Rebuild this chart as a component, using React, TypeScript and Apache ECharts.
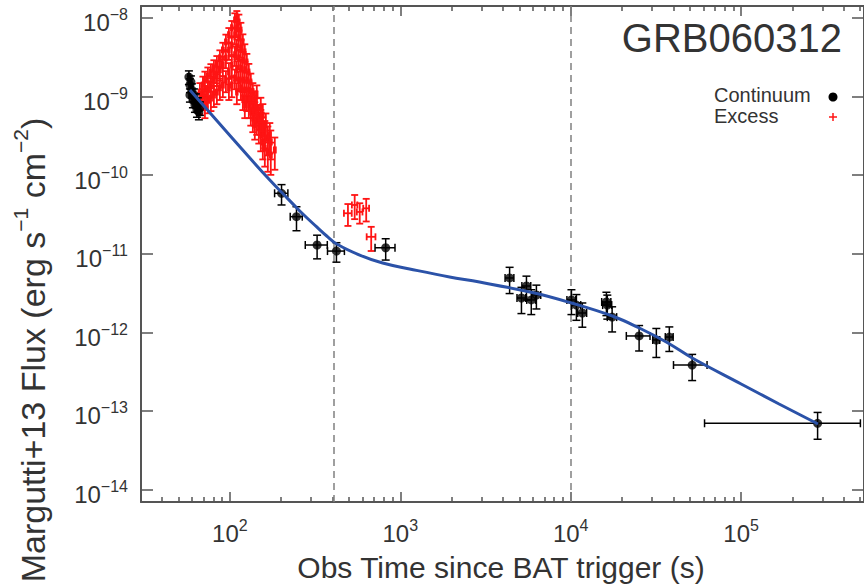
import React, { useEffect, useRef } from "react";
import * as echarts from "echarts";

// ---------- axis ranges (data units) ----------
const X_MIN = 30.1; // s
const X_MAX = 5.26e5; // s
const Y_MIN = 6.92e-15;
const Y_MAX = 1.42e-8;

const xMajorTicks = [100, 1000, 10000, 100000];
const xMinorTicks = [
  40, 50, 60, 70, 80, 90,
  200, 300, 400, 500, 600, 700, 800, 900,
  2000, 3000, 4000, 5000, 6000, 7000, 8000, 9000,
  20000, 30000, 40000, 50000, 60000, 70000, 80000, 90000,
  200000, 300000, 400000, 500000,
];
const yMajorTicks = [1e-14, 1e-13, 1e-12, 1e-11, 1e-10, 1e-9, 1e-8];

const breakTimes = [410, 10000];

// ---------- Continuum (black points) ----------
const contT = [57.5, 58.3, 58.3, 59.1, 59.9, 60.7, 61.5, 62.4, 63.2, 64.1, 64.9, 65.8, 66.7,
  201, 246, 325, 422, 821,
  4380, 5140, 5500, 5870, 6290, 10100, 10800, 11700, 16200, 16400, 17500,
  25200, 31800, 37900, 51600, 281000];
const contF = [1.77e-9, 1.4e-9, 1.05e-9, 1.53e-9, 1.21e-9, 9.0e-10, 1.05e-9, 7.8e-10, 9.0e-10, 6.75e-10, 8.04e-10, 6.36e-10, 7.15e-10,
  5.87e-11, 2.96e-11, 1.29e-11, 1.08e-11, 1.19e-11,
  4.91e-12, 2.73e-12, 3.88e-12, 2.58e-12, 2.98e-12, 2.58e-12, 2.22e-12, 1.76e-12, 2.43e-12, 2.22e-12, 1.56e-12,
  8.98e-13, 7.98e-13, 8.7e-13, 3.83e-13, 6.95e-14];
const contTErr = [0.8, 0.8, 0.8, 0.8, 0.8, 0.8, 0.8, 0.8, 0.8, 0.8, 0.8, 0.8, 0.8,
  18, 20, 48, 48, 110,
  260, 300, 330, 350, 380, 600, 650, 700, 1000, 1000, 1100,
  4000, 1500, 2000, 11500, 220000];
const contFErr = [0.35e-9, 0.28e-9, 0.2e-9, 0.3e-9, 0.24e-9, 0.18e-9, 0.2e-9, 0.15e-9, 0.18e-9, 0.13e-9, 0.16e-9, 0.13e-9, 0.14e-9,
  1.7e-11, 1.0e-11, 0.43e-11, 0.3e-11, 0.36e-11,
  1.8e-12, 1.0e-12, 1.3e-12, 0.9e-12, 1.0e-12, 0.9e-12, 0.8e-12, 0.6e-12, 0.8e-12, 0.75e-12, 0.55e-12,
  3.2e-13, 3.2e-13, 3.0e-13, 1.4e-13, 2.6e-14];

// ---------- Excess (red crosses) ----------
const excT = [
  66.7, 66.7, 69.5, 69.5,
  71.4, 71.4, 71.4, 74.3, 74.3, 74.3, 77.4, 77.4, 77.4, 80.6, 80.6, 80.6,
  83.9, 83.9, 83.9, 87.4, 87.4, 87.4, 91.0, 91.0, 91.0, 94.8, 94.8, 94.8,
  98.7, 98.7, 98.7, 102.7, 102.7, 102.7, 107.0, 107.0, 107.0, 109.9, 109.9, 109.9,
  112.9, 112.9, 112.9, 116.0, 116.0, 116.0, 119.2, 119.2, 119.2, 122.4, 122.4, 122.4,
  125.8, 125.8, 125.8, 129.2, 129.2, 129.2, 132.7, 132.7, 132.7, 136.4, 136.4, 136.4,
  140.1, 140.1, 140.1, 143.9, 143.9, 147.9, 147.9, 151.9, 151.9, 156.1, 156.1,
  160.4, 160.4, 167.0, 167.0, 173.8, 173.8,
  98.7, 102.7, 107.0, 109.9, 109.9, 112.9, 116.0, 119.2, 122.4,
  183.5, 156.1, 143.9, 151.9, 162.6, 171.5,
  493, 540, 578, 631, 675];
const excF = [
  1.14e-9, 8.5e-10, 1.4e-9, 9.6e-10,
  1.62e-9, 1.05e-9, 7.8e-10, 1.83e-9, 1.21e-9, 9.0e-10, 2.05e-9, 1.4e-9, 9.6e-10, 2.3e-9, 1.62e-9, 1.05e-9,
  2.6e-9, 1.88e-9, 1.14e-9, 3.1e-9, 2.2e-9, 1.29e-9, 3.9e-9, 2.5e-9, 1.4e-9, 4.95e-9, 3.1e-9, 1.62e-9,
  6.1e-9, 3.9e-9, 2.05e-9, 7.5e-9, 4.5e-9, 2.5e-9, 9.4e-9, 6.1e-9, 3.4e-9, 9.8e-9, 7.5e-9, 4.15e-9,
  8.9e-9, 5.6e-9, 3.1e-9, 7.0e-9, 4.15e-9, 2.3e-9, 4.95e-9, 2.9e-9, 1.62e-9, 3.7e-9, 2.2e-9, 1.21e-9,
  2.75e-9, 1.62e-9, 9.6e-10, 2.05e-9, 1.21e-9, 7.8e-10, 1.53e-9, 9.6e-10, 6.36e-10, 1.14e-9, 7.8e-10, 5.33e-10,
  9.0e-10, 6.36e-10, 4.35e-10, 7.15e-10, 5.0e-10, 5.8e-10, 4.0e-10, 5.0e-10, 3.24e-10, 4.0e-10, 2.64e-10,
  3.54e-10, 2.21e-10, 2.97e-10, 1.97e-10, 2.64e-10, 1.8e-10,
  1.29e-9, 1.4e-9, 1.72e-9, 2.2e-9, 1.14e-9, 1.62e-9, 1.29e-9, 9.6e-10, 7.8e-10,
  2.09e-10, 5.8e-10, 1.05e-9, 7.15e-10, 4.35e-10, 3.24e-10,
  3.27e-11, 4.17e-11, 3.4e-11, 3.78e-11, 1.64e-11];
const excTErr = [
  1.2, 1.2, 1.2, 1.2,
  1.2, 1.2, 1.2, 1.2, 1.2, 1.2, 1.2, 1.2, 1.2, 1.2, 1.2, 1.2,
  1.2, 1.2, 1.2, 1.2, 1.2, 1.2, 1.2, 1.2, 1.2, 1.2, 1.2, 1.2,
  1.2, 1.2, 1.2, 1.2, 1.2, 1.2, 1.2, 1.2, 1.2, 1.2, 1.2, 1.2,
  1.2, 1.2, 1.2, 1.2, 1.2, 1.2, 1.2, 1.2, 1.2, 1.2, 1.2, 1.2,
  1.2, 1.2, 1.2, 1.2, 1.2, 1.2, 1.2, 1.2, 1.2, 1.2, 1.2, 1.2,
  1.5, 1.5, 1.5, 1.5, 1.5, 1.5, 1.5, 1.5, 1.5, 2.0, 2.0,
  2.0, 2.0, 2.5, 2.5, 2.5, 2.5,
  1.2, 1.2, 1.2, 1.2, 1.2, 1.2, 1.2, 1.2, 1.2,
  2.5, 2.0, 1.5, 1.5, 2.0, 2.5,
  26, 20, 22, 25, 40];
const excFRelErr = [
  0.3, 0.3, 0.28, 0.3,
  0.28, 0.3, 0.32, 0.28, 0.3, 0.32, 0.26, 0.3, 0.32, 0.26, 0.28, 0.3,
  0.26, 0.28, 0.3, 0.25, 0.28, 0.3, 0.24, 0.28, 0.3, 0.24, 0.26, 0.3,
  0.22, 0.25, 0.3, 0.22, 0.25, 0.3, 0.22, 0.24, 0.28, 0.25, 0.24, 0.28,
  0.24, 0.25, 0.28, 0.24, 0.25, 0.28, 0.25, 0.27, 0.3, 0.25, 0.27, 0.3,
  0.27, 0.28, 0.32, 0.27, 0.3, 0.32, 0.28, 0.3, 0.33, 0.3, 0.32, 0.34,
  0.3, 0.33, 0.35, 0.33, 0.35, 0.35, 0.37, 0.35, 0.38, 0.36, 0.4,
  0.38, 0.42, 0.4, 0.44, 0.4, 0.44,
  0.3, 0.3, 0.28, 0.28, 0.3, 0.28, 0.3, 0.3, 0.32,
  0.44, 0.38, 0.32, 0.35, 0.4, 0.42,
  0.31, 0.34, 0.29, 0.32, 0.34];

// ---------- model curve (blue) ----------
const modelT = [58.3, 131.0, 171.5, 204.4, 257.2, 323.4, 370.2, 423.6, 577.9, 787.9, 1134, 1946, 2916,
  6126, 10090, 17540, 25260, 36360, 51630, 100000, 167000, 282600];
const modelF = [1.212e-9, 1.652e-10, 8.67e-11, 5.84e-11, 3.5e-11, 2.19e-11, 1.68e-11, 1.33e-11, 9.6e-12,
  7.6e-12, 6.4e-12, 5.05e-12, 4.36e-12, 3.16e-12, 2.36e-12, 1.61e-12, 1.134e-12, 7.52e-13, 4.71e-13,
  2.2e-13, 1.223e-13, 6.8e-14];

// ---------- texts ----------
const titleText = "GRB060312";
const legendLabels = ["Continuum", "Excess"];
const xTitle = "Obs Time since BAT trigger (s)";

const FONT = '"Liberation Sans", Arial, Helvetica, sans-serif';
const TXT = "#333333";
const AX = "#555555";
const BLUE = "#2b52a8";
const RED = "#ff1414";

const L = (v: number) => Math.log10(v);

function errData(t: number[], f: number[], dt: number[], df: number[]) {
  return t.map((tv, i) => {
    const lo = Math.max(f[i] - df[i], f[i] * 0.05);
    return [L(tv), L(f[i]), L(Math.max(tv - dt[i], 1)), L(tv + dt[i]), L(lo), L(f[i] + df[i])];
  });
}

function errRenderer(color: string, cap: number, width: number) {
  return (params: any, api: any) => {
    const x = api.value(0), y = api.value(1);
    const c = api.coord([x, y]);
    const xl = api.coord([api.value(2), y])[0];
    const xh = api.coord([api.value(3), y])[0];
    const yl = api.coord([x, api.value(4)])[1];
    const yh = api.coord([x, api.value(5)])[1];
    const style = { stroke: color, lineWidth: width };
    const ln = (x1: number, y1: number, x2: number, y2: number) => ({
      type: "line", shape: { x1, y1, x2, y2 }, style,
    });
    return {
      type: "group",
      children: [
        ln(xl, c[1], xh, c[1]),
        ln(c[0], yl, c[0], yh),
        ln(c[0] - cap, yl, c[0] + cap, yl),
        ln(c[0] - cap, yh, c[0] + cap, yh),
        ln(xl, c[1] - cap, xl, c[1] + cap),
        ln(xh, c[1] - cap, xh, c[1] + cap),
      ],
    };
  };
}

const tickRich = {
  b: { fontSize: 24, fontFamily: FONT, color: TXT, lineHeight: 28, verticalAlign: "bottom" },
  s: { fontSize: 16, fontFamily: FONT, color: TXT, lineHeight: 16, verticalAlign: "top" },
};

export default function App() {
  const ref = useRef<HTMLDivElement>(null);

  useEffect(() => {
    if (!ref.current) return;
    const chart = echarts.init(ref.current, null, { renderer: "svg" });

    const xBase = {
      type: "value",
      min: L(X_MIN),
      max: L(X_MAX),
      splitLine: { show: false },
      axisPointer: { show: false },
    };
    const yBase = {
      type: "value",
      min: L(Y_MIN),
      max: L(Y_MAX),
      splitLine: { show: false },
      axisPointer: { show: false },
    };
    const lineOn = { show: true, onZero: false, lineStyle: { color: AX, width: 2 } };
    const lineOff = { show: false, onZero: false };
    const majX = xMajorTicks.map(L);
    const minX = xMinorTicks.map(L);
    const majY = yMajorTicks.map(L);

    const option: any = {
      animation: false,
      backgroundColor: "#ffffff",
      grid: { left: 141, top: 6, right: -1, bottom: 84, containLabel: false },
      xAxis: [
        {
          ...xBase, position: "bottom", axisLine: lineOn,
          axisTick: { show: true, inside: true, length: 10, customValues: majX, lineStyle: { color: AX, width: 1.5 } },
          axisLabel: {
            show: true, customValues: majX, margin: 15,
            formatter: (v: number) => `{b|10}{s|${Math.round(v)}}`,
            rich: tickRich,
          },
        },
        {
          ...xBase, position: "bottom", axisLine: lineOff,
          axisTick: { show: true, inside: true, length: 5, customValues: minX, lineStyle: { color: AX, width: 1.5 } },
          axisLabel: { show: false },
        },
        {
          ...xBase, position: "top", axisLine: lineOn,
          axisTick: { show: true, inside: true, length: 10, customValues: majX, lineStyle: { color: AX, width: 1.5 } },
          axisLabel: { show: false },
        },
        {
          ...xBase, position: "top", axisLine: lineOff,
          axisTick: { show: true, inside: true, length: 5, customValues: minX, lineStyle: { color: AX, width: 1.5 } },
          axisLabel: { show: false },
        },
      ],
      yAxis: [
        {
          ...yBase, position: "left", axisLine: lineOn,
          axisTick: { show: true, inside: true, length: 12, customValues: majY, lineStyle: { color: AX, width: 1.5 } },
          axisLabel: {
            show: true, customValues: majY, margin: 13,
            padding: [6, 0, 0, 0],
            formatter: (v: number) => `{b|10}{s|\u2212${Math.round(-v)}}`,
            rich: tickRich,
          },
        },
        {
          ...yBase, position: "right", axisLine: lineOn,
          axisTick: { show: true, inside: true, length: 12, customValues: majY, lineStyle: { color: AX, width: 1.5 } },
          axisLabel: { show: false },
        },
      ],
      series: [
        {
          type: "custom",
          name: "Excess",
          xAxisIndex: 0, yAxisIndex: 0,
          renderItem: errRenderer(RED, 3.5, 1.8),
          data: errData(excT, excF, excTErr, excF.map((f, i) => f * excFRelErr[i])),
          z: 2, silent: true, clip: true,
        },
        {
          type: "custom",
          name: "ContinuumErr",
          xAxisIndex: 0, yAxisIndex: 0,
          renderItem: errRenderer("#000000", 4, 1.5),
          data: errData(contT, contF, contTErr, contFErr),
          z: 3, silent: true, clip: true,
        },
        {
          type: "scatter",
          name: "Continuum",
          xAxisIndex: 0, yAxisIndex: 0,
          symbol: "circle", symbolSize: 9,
          itemStyle: { color: "#000000" },
          data: contT.map((t, i) => [L(t), L(contF[i])]),
          z: 4, silent: true,
        },
        {
          type: "line",
          name: "Model",
          xAxisIndex: 0, yAxisIndex: 0,
          data: modelT.map((t, i) => [L(t), L(modelF[i])]),
          smooth: 0.4,
          showSymbol: false, symbol: "none",
          lineStyle: { color: BLUE, width: 3 },
          z: 5, silent: true,
          markLine: {
            silent: true, symbol: ["none", "none"],
            label: { show: false },
            lineStyle: { color: "#808080", width: 1.5, type: [7, 5] },
            data: breakTimes.map((t) => ({ xAxis: L(t) })),
            z: 1,
          },
        },
      ],
      graphic: [
        {
          type: "text", x: 842, y: 38, z: 10,
          style: { text: titleText, fontSize: 40, fontFamily: FONT, fill: "#333", align: "right", verticalAlign: "middle", textAlign: "right", textVerticalAlign: "middle" },
        },
        {
          type: "text", x: 714, y: 95, z: 10,
          style: { text: legendLabels[0], fontSize: 20, fontFamily: FONT, fill: TXT, align: "left", verticalAlign: "middle", textAlign: "left", textVerticalAlign: "middle" },
        },
        {
          type: "text", x: 714, y: 116, z: 10,
          style: { text: legendLabels[1], fontSize: 20, fontFamily: FONT, fill: TXT, align: "left", verticalAlign: "middle", textAlign: "left", textVerticalAlign: "middle" },
        },
        { type: "circle", z: 10, shape: { cx: 833, cy: 97, r: 4.5 }, style: { fill: "#000" } },
        { type: "line", z: 10, shape: { x1: 829, y1: 117, x2: 837, y2: 117 }, style: { stroke: RED, lineWidth: 1.5 } },
        { type: "line", z: 10, shape: { x1: 833, y1: 113, x2: 833, y2: 121 }, style: { stroke: RED, lineWidth: 1.5 } },
        {
          type: "text", x: 501, y: 567, z: 10,
          style: { text: xTitle, fontSize: 30, fontFamily: FONT, fill: TXT, align: "center", verticalAlign: "middle", textAlign: "center", textVerticalAlign: "middle" },
        },
        {
          type: "text", x: 30, y: 350, z: 10, rotation: Math.PI / 2,
          style: {
            text: "{a|Margutti+13 Flux (erg s}{s|\u22121}{a| cm}{s|\u22122}{a|)}",
            rich: {
              a: { fontSize: 34, fontFamily: FONT, fill: TXT, color: TXT, lineHeight: 40, verticalAlign: "bottom" },
              s: { fontSize: 21, fontFamily: FONT, fill: TXT, color: TXT, lineHeight: 22, verticalAlign: "top" },
            },
            align: "center", verticalAlign: "middle", textAlign: "center", textVerticalAlign: "middle",
          },
        },
      ],
    };

    chart.setOption(option);
    return () => chart.dispose();
  }, []);

  return (
    <div
      ref={ref}
      style={{ position: "fixed", left: 0, top: 0, width: 864, height: 586, background: "#fff" }}
    />
  );
}
